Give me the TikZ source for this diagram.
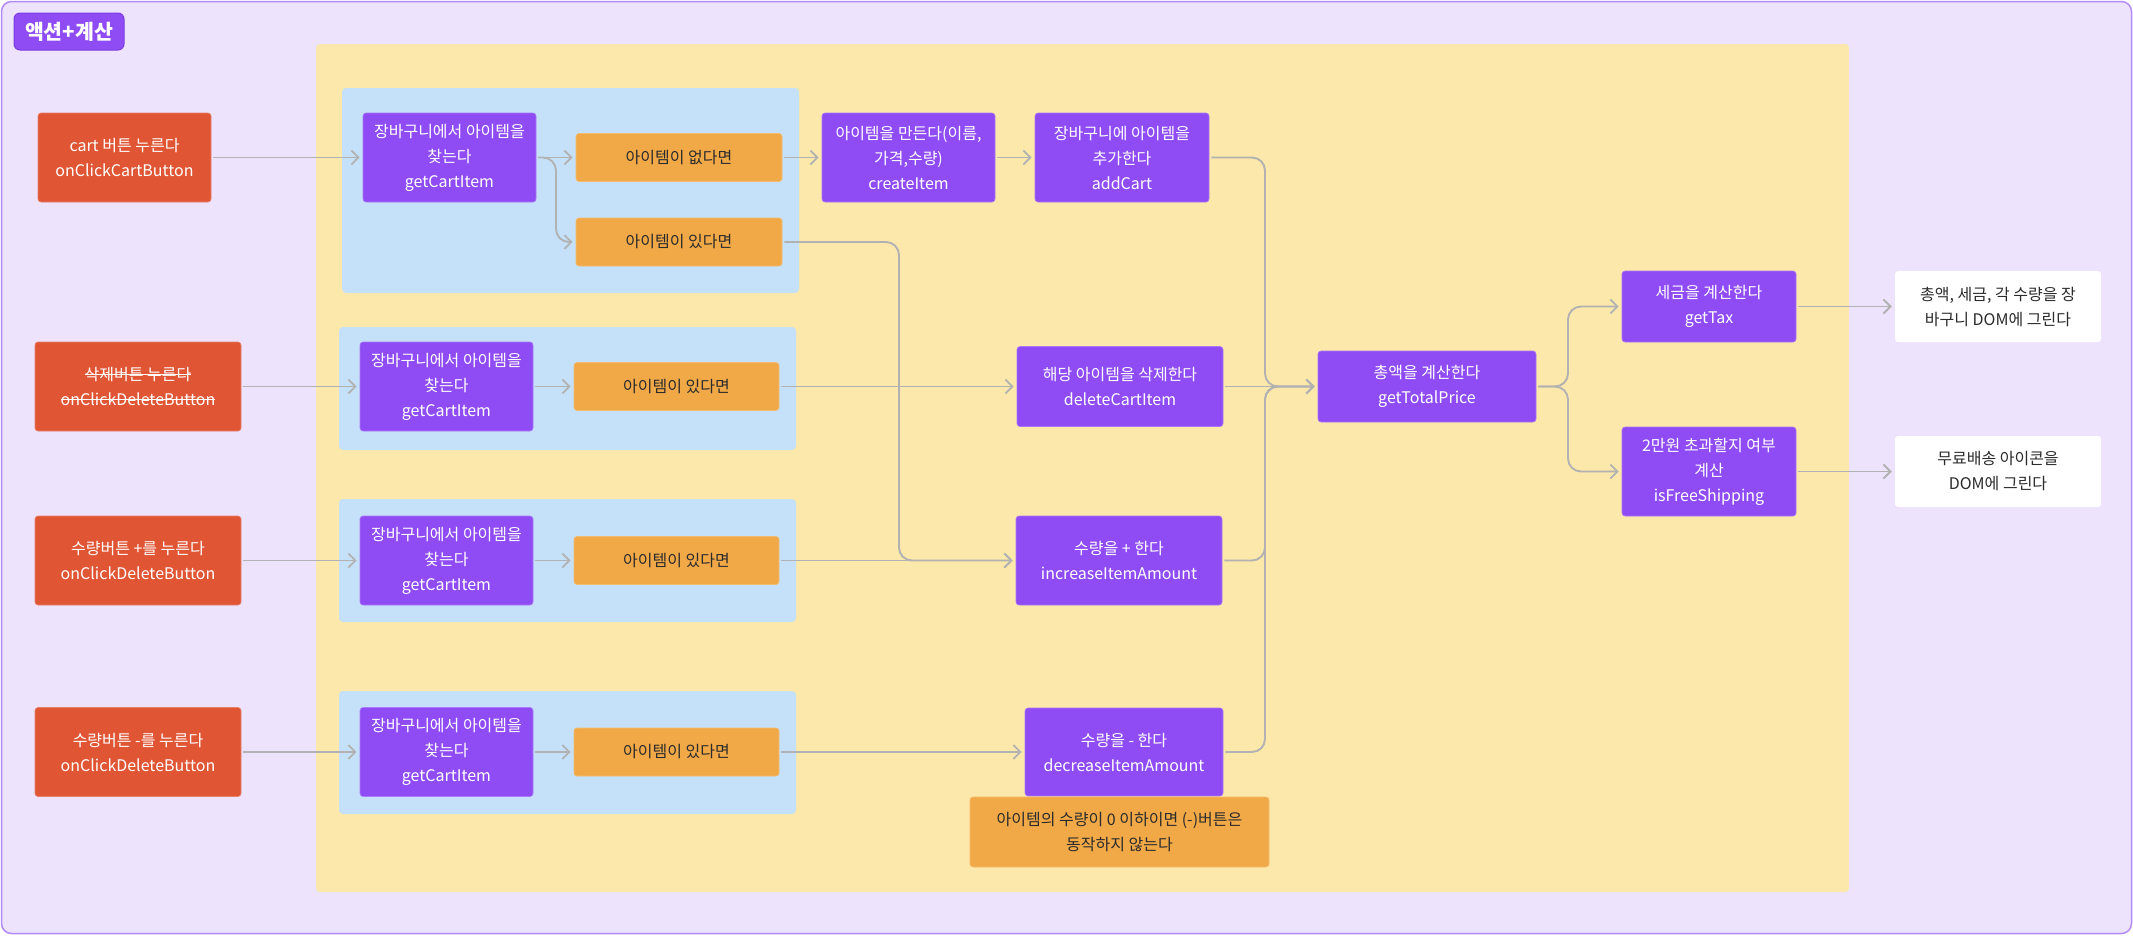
\documentclass[tikz,border=0pt]{standalone}
\usepackage{fontspec}
\setmainfont{Noto Sans CJK KR}
\usetikzlibrary{arrows.meta}
\definecolor{lav}{HTML}{EDE3FD}
\definecolor{bord}{HTML}{B38BF5}
\definecolor{yel}{HTML}{FBE8AA}
\definecolor{blu}{HTML}{C5E1FA}
\definecolor{purp}{HTML}{8F4BF4}
\definecolor{redc}{HTML}{E05634}
\definecolor{orc}{HTML}{F1A948}
\definecolor{grayc}{HTML}{B2B2B2}
\definecolor{titleb}{HTML}{7A3CE0}
\definecolor{dark}{HTML}{2B2B2B}
\newcommand\mystrike[1]{\setbox0\hbox{#1}\rlap{\color{white}\rule[0.33em]{\wd0}{0.9pt}}\box0}
\tikzset{
  basebox/.style={rectangle, rounded corners=3pt, align=center, inner sep=0pt,
    font=\fontsize{16}{25}\selectfont},
  pbox/.style={basebox, fill=purp, draw=purp!75!white, line width=0.6pt, text=white},
  rbox/.style={basebox, fill=redc, draw=redc!75!white, line width=0.6pt, text=white},
  obox/.style={basebox, fill=orc, draw=orc!80!white, line width=0.6pt, text=dark},
  wbox/.style={basebox, fill=white, text=dark},
  arr/.style={draw=grayc, line width=1.9pt, rounded corners=13pt,
    -{Straight Barb[length=7pt,width=14pt]}, shorten >=3pt, shorten <=2pt},
}
\begin{document}
\begin{tikzpicture}[x=1pt,y=-1pt]
\useasboundingbox (0,0) rectangle (2133,935);
% frame
\filldraw[fill=lav, draw=bord, line width=1.5pt, rounded corners=10pt] (1.5,1.5) rectangle (2131.5,933.5);
\node[rectangle, rounded corners=6pt, fill=purp, draw=titleb, line width=1pt, text=white,
  minimum width=110pt, minimum height=37pt, inner sep=0pt,
  font=\fontsize{20.5}{24}\selectfont\bfseries] (title) at (69,31.5) {액션+계산};
% groups
\fill[yel, rounded corners=4pt] (316,44) rectangle (1849,892);
\fill[blu, rounded corners=4pt] (342,88) rectangle (799,293);
\fill[blu, rounded corners=4pt] (339,327) rectangle (796,450);
\fill[blu, rounded corners=4pt] (339,499) rectangle (796,622);
\fill[blu, rounded corners=4pt] (339,691) rectangle (796,814);
% left buttons
\node[rbox, minimum width=173pt, minimum height=89pt] (cart) at (124.5,157.5) {cart 버튼 누른다\\onClickCartButton};
\node[rbox, minimum width=206pt, minimum height=89pt] (del) at (138,386.5) {\mystrike{삭제버튼 누른다}\\\mystrike{onClickDeleteButton}};
\node[rbox, minimum width=206pt, minimum height=89pt] (plus) at (138,560.5) {수량버튼 +를 누른다\\onClickDeleteButton};
\node[rbox, minimum width=206pt, minimum height=89pt] (minus) at (138,752) {수량버튼 -를 누른다\\onClickDeleteButton};
% getCartItem
\node[pbox, minimum width=173pt, minimum height=89pt] (gci1) at (449.5,157.5) {장바구니에서 아이템을\\찾는다\\getCartItem};
\node[pbox, minimum width=173pt, minimum height=89pt] (gci2) at (446.5,386.5) {장바구니에서 아이템을\\찾는다\\getCartItem};
\node[pbox, minimum width=173pt, minimum height=89pt] (gci3) at (446.5,560.5) {장바구니에서 아이템을\\찾는다\\getCartItem};
\node[pbox, minimum width=173pt, minimum height=89pt] (gci4) at (446.5,752) {장바구니에서 아이템을\\찾는다\\getCartItem};
% conditions
\node[obox, minimum width=206pt, minimum height=48pt] (none) at (679,157.5) {아이템이 없다면};
\node[obox, minimum width=206pt, minimum height=48pt] (yes1) at (679,242) {아이템이 있다면};
\node[obox, minimum width=205pt, minimum height=48pt] (yes2) at (676.5,386.5) {아이템이 있다면};
\node[obox, minimum width=205pt, minimum height=48pt] (yes3) at (676.5,560.5) {아이템이 있다면};
\node[obox, minimum width=205pt, minimum height=48pt] (yes4) at (676.5,752) {아이템이 있다면};
% actions
\node[pbox, minimum width=173pt, minimum height=89pt] (create) at (908.5,157.5) {아이템을 만든다(이름,\\가격,수량)\\createItem};
\node[pbox, minimum width=174pt, minimum height=89pt] (add) at (1122,157.5) {장바구니에 아이템을\\추가한다\\addCart};
\node[pbox, minimum width=206pt, minimum height=80pt] (delItem) at (1120,386.5) {해당 아이템을 삭제한다\\deleteCartItem};
\node[pbox, minimum width=206pt, minimum height=89pt] (incr) at (1119,560.5) {수량을 + 한다\\increaseItemAmount};
\node[pbox, minimum width=198pt, minimum height=88pt] (decr) at (1124,752) {수량을 - 한다\\decreaseItemAmount};
\node[obox, minimum width=299pt, minimum height=70pt] (note) at (1119.5,832) {아이템의 수량이 0 이하이면 (-)버튼은\\동작하지 않는다};
\node[pbox, minimum width=218pt, minimum height=71pt] (gtp) at (1427,386.5) {총액을 계산한다\\getTotalPrice};
\node[pbox, minimum width=174pt, minimum height=71pt] (tax) at (1709,306.5) {세금을 계산한다\\getTax};
\node[pbox, minimum width=174pt, minimum height=89pt] (free) at (1709,471.5) {2만원 초과할지 여부\\계산\\isFreeShipping};
\node[wbox, minimum width=206pt, minimum height=71pt] (w1) at (1998,306.5) {총액, 세금, 각 수량을 장\\바구니 DOM에 그린다};
\node[wbox, minimum width=206pt, minimum height=71pt] (w2) at (1998,471.5) {무료배송 아이콘을\\DOM에 그린다};
% bus coordinates
\coordinate (busA) at (1265,0);
\coordinate (busB) at (899,0);
\coordinate (busC) at (1568,0);
\coordinate (busD) at (556,0);
% connectors
\draw[arr] (cart) -- (gci1);
\draw[arr] (gci1) -- (none);
\draw[arr] (gci1.east) -| (busD |- yes1.west) -- (yes1.west);
\draw[arr] (none) -- (create);
\draw[arr] (create) -- (add);
\draw[arr] (add.east) -| (busA |- gtp.west) -- (gtp.west);
\draw[arr] (yes1.east) -| (busB |- incr.west) -- (incr.west);
\draw[arr] (del) -- (gci2);
\draw[arr] (gci2) -- (yes2);
\draw[arr] (yes2) -- (delItem);
\draw[arr] (delItem) -- (gtp);
\draw[arr] (plus) -- (gci3);
\draw[arr] (gci3) -- (yes3);
\draw[arr] (yes3) -- (incr);
\draw[arr] (incr.east) -| (busA |- gtp.west) -- (gtp.west);
\draw[arr] (minus) -- (gci4);
\draw[arr] (gci4) -- (yes4);
\draw[arr] (yes4) -- (decr);
\draw[arr] (decr.east) -| (busA |- gtp.west) -- (gtp.west);
\draw[arr] (gtp.east) -| (busC |- tax.west) -- (tax.west);
\draw[arr] (gtp.east) -| (busC |- free.west) -- (free.west);
\draw[arr] (tax) -- (w1);
\draw[arr] (free) -- (w2);
\end{tikzpicture}
\end{document}
